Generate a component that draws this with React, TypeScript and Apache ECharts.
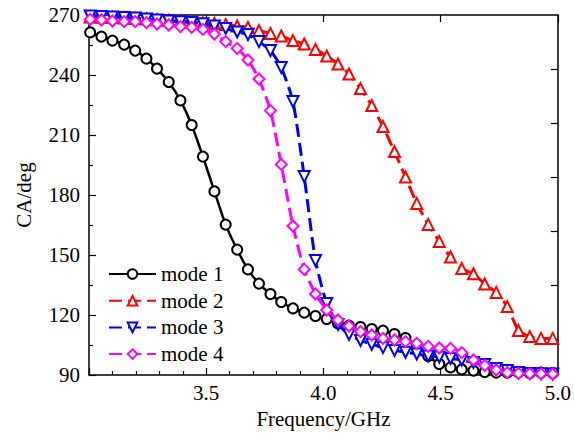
import React, { useEffect, useRef } from "react";
import * as echarts from "echarts";

const freq = [3.005, 3.053, 3.1, 3.15, 3.197, 3.245, 3.29, 3.34, 3.39, 3.438, 3.486, 3.535, 3.583, 3.632, 3.678, 3.725, 3.774, 3.82, 3.87, 3.918, 3.966, 4.014, 4.062, 4.109, 4.158, 4.206, 4.254, 4.303, 4.35, 4.398, 4.447, 4.494, 4.542, 4.59, 4.64, 4.688, 4.737, 4.784, 4.832, 4.88, 4.928, 4.978];

const mode1 = [261.3, 259.2, 257.2, 255.2, 252.2, 248.2, 243.2, 236.5, 227.3, 215, 199.2, 181.8, 165.2, 152.7, 142.8, 135.7, 130.5, 126.5, 123.3, 121.2, 119.5, 118, 115.8, 114.7, 114, 113, 112.2, 110.5, 108.5, 105, 99.5, 95.5, 93.8, 92.8, 92.2, 91.5, 91.2, 91.2, 91.4, 91, 91.2, 91];
const mode2 = [269, 268.9, 268.7, 268.5, 268.3, 268, 267.6, 267.2, 267, 266.2, 266, 265.8, 265.3, 264.5, 263.8, 262.2, 260.8, 259.5, 257.2, 255.5, 252.8, 249.5, 245.5, 240.5, 233.2, 224.7, 214.2, 201.7, 189, 175.8, 165.3, 156.8, 149, 143.2, 140.6, 135.5, 131.3, 124.2, 112.2, 109.2, 108.3, 108.3];
const mode3 = [269.5, 269.3, 269, 268.8, 268.5, 268, 267.5, 267, 266.6, 266.3, 265.6, 264.5, 263.3, 261.5, 260.2, 256.7, 252.2, 243.8, 226.7, 189.2, 147.2, 125.8, 115.3, 110.3, 107.3, 105.4, 103.7, 102.3, 101.4, 100.5, 99.5, 99, 98.3, 97.5, 96.2, 95.3, 93.3, 92.2, 91.3, 90.8, 90.6, 90.5];
const mode4 = [267.8, 267.5, 267, 266.7, 266.7, 266.2, 265.5, 265, 264.2, 263.8, 262.8, 260.5, 256.7, 253.3, 247.5, 238, 222.2, 195.3, 164.5, 142.8, 130.5, 122.5, 117.5, 114.5, 111.7, 110, 108.3, 107.5, 106.7, 105.8, 104.3, 103.5, 103.3, 101.2, 97.5, 94.8, 92.5, 91.2, 90.8, 90.7, 90.6, 90.5];

const seriesNames = ["mode 1", "mode 2", "mode 3", "mode 4"];
const seriesValues = [mode1, mode2, mode3, mode4];
const seriesColors = ["#000000", "#ff0000", "#0000ff", "#ff00ff"];
const seriesSymbols = ["emptyCircle", "emptyTriangle", "emptyTriangle", "emptyDiamond"];
const seriesRotate = [0, 0, 180, 0];
const seriesDashed = [false, true, true, true];

const yTicks = [90, 120, 150, 180, 210, 240, 270];
const rightTicks = [108, 135, 162, 189, 216, 243];

const FONT = "Liberation Serif";

export default function App() {
  const ref = useRef<HTMLDivElement>(null);
  useEffect(() => {
    if (!ref.current) return;
    document.body.style.margin = "0";
    const chart = echarts.init(ref.current, null, { renderer: "svg" });
    const axisLine = { show: true, lineStyle: { color: "#000", width: 1.5 } };
    const option: any = {
      animation: false,
      backgroundColor: "#fff",
      textStyle: { fontFamily: FONT },
      grid: { left: 89, right: 14, top: 15, bottom: 65, containLabel: false },
      legend: {
        orient: "vertical",
        left: 103,
        top: 258,
        itemWidth: 47,
        itemHeight: 12,
        itemGap: 4.7,
        data: seriesNames,
        textStyle: { fontFamily: FONT, fontSize: 21, color: "#000", lineHeight: 22 },
      },
      xAxis: [
        {
          type: "value",
          min: 3.0,
          max: 5.0,
          interval: 0.5,
          position: "bottom",
          name: "Frequency/GHz",
          nameLocation: "middle",
          nameGap: 33,
          nameTextStyle: { fontFamily: FONT, fontSize: 21, color: "#000" },
          axisLine,
          axisTick: { show: true, inside: true, length: 7, lineStyle: { color: "#000", width: 1.2 } },
          minorTick: { show: true, splitNumber: 5, length: 4, lineStyle: { color: "#000", width: 1.2 } },
          axisLabel: {
            showMinLabel: false,
            fontFamily: FONT,
            fontSize: 21,
            color: "#000",
            margin: 7,
            formatter: (v: number) => v.toFixed(1),
          },
          splitLine: { show: false },
        },
        {
          type: "value",
          min: 3.0,
          max: 5.0,
          interval: 0.5,
          position: "top",
          axisLine,
          axisTick: { show: true, inside: true, length: 7, lineStyle: { color: "#000", width: 1.2 } },
          axisLabel: { show: false },
          splitLine: { show: false },
        },
      ],
      yAxis: [
        {
          type: "value",
          min: 90,
          max: 270,
          interval: 30,
          position: "left",
          name: "CA/deg",
          nameLocation: "middle",
          nameGap: 55,
          nameTextStyle: { fontFamily: FONT, fontSize: 21, color: "#000" },
          axisLine,
          axisTick: { show: true, inside: true, length: 7, lineStyle: { color: "#000", width: 1.2 } },
          minorTick: { show: true, splitNumber: 2, length: 4, lineStyle: { color: "#000", width: 1.2 } },
          axisLabel: {
            fontFamily: FONT,
            fontSize: 21,
            color: "#000",
            margin: 9,
            customValues: yTicks,
          },
          splitLine: { show: false },
        },
        {
          type: "value",
          min: 90,
          max: 270,
          position: "right",
          axisLine,
          axisTick: {
            show: true,
            inside: true,
            length: 7,
            customValues: rightTicks,
            lineStyle: { color: "#000", width: 1.2 },
          },
          axisLabel: { show: false, customValues: rightTicks },
          splitLine: { show: false },
        },
      ],
      series: seriesNames.map((name, i) => ({
        name,
        type: "line",
        xAxisIndex: 0,
        yAxisIndex: 0,
        data: freq.map((f, k) => [f, seriesValues[i][k]]),
        symbol: seriesSymbols[i],
        symbolSize: i === 0 ? 10 : 11,
        symbolRotate: seriesRotate[i],
        showAllSymbol: true,
        smooth: 0.2,
        clip: true,
        color: seriesColors[i],
        lineStyle: {
          color: seriesColors[i],
          width: seriesDashed[i] ? 3 : 2.5,
          type: seriesDashed[i] ? [13, 6] : "solid",
        },
        itemStyle: { color: seriesColors[i], borderColor: seriesColors[i], borderWidth: 1.2 },
        z: 2 + i,
      })),
    };
    chart.setOption(option);
    return () => chart.dispose();
  }, []);
  return <div ref={ref} style={{ position: "fixed", left: 0, top: 0, width: 574, height: 440 }} />;
}
